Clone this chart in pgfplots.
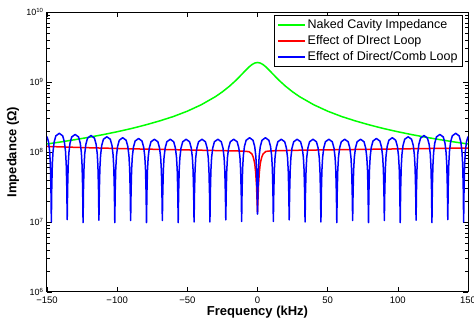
\documentclass[border=0pt]{standalone}
\usepackage{pgfplots}
\pgfplotsset{compat=1.18}
\usepackage{fontspec}
\setmainfont{Liberation Sans}
\definecolor{mgreen}{rgb}{0,1,0}
\definecolor{mred}{rgb}{1,0,0}
\definecolor{mblue}{rgb}{0,0,1}
\begin{document}
\begin{tikzpicture}
\useasboundingbox (0,0) rectangle (474pt,325pt);
\begin{axis}[
  at={(47pt,33pt)}, anchor=south west,
  scale only axis, width=421pt, height=280pt,
  ymode=log,
  xmin=-150, xmax=150, ymin=1e6, ymax=1e10,
  xtick={-150,-100,-50,0,50,100,150},
  xticklabels={−150,−100,−50,0,50,100,150},
  ytick={1e6,1e7,1e8,1e9,1e10},
  yticklabels={10\textsuperscript{6},10\textsuperscript{7},10\textsuperscript{8},10\textsuperscript{9},10\textsuperscript{10}},
  tick label style={font=\fontsize{9.5}{10}\selectfont},
  yticklabel style={font=\fontsize{9}{10}\selectfont, inner ysep=0pt},
  xticklabel style={yshift=-4.5pt, inner ysep=0pt},
  axis line style={line width=1pt},
  major tick length=5pt, minor tick length=3pt,
  every tick/.style={black, line width=0.6pt},
  xlabel={Frequency (kHz)},
  ylabel={Impedance (Ω)},
  label style={font=\bfseries\fontsize{13}{14}\selectfont, inner sep=0pt},
  xlabel style={at={(axis description cs:0.5,-0.050)}, anchor=north},
  ylabel style={at={(axis description cs:-0.066,0.5)}, anchor=south},
  legend style={at={(rel axis cs:0.988,0.989)}, anchor=north east, draw=black, line width=0.8pt,
    font=\fontsize{12.5}{13}\selectfont, inner xsep=3pt, inner ysep=2pt, row sep=1.5pt,
    cells={anchor=west}},
  legend image code/.code={\draw[mark repeat=2,mark phase=2,#1] plot coordinates {(0pt,0pt) (13pt,0pt) (27pt,0pt)};},
]
\addplot[color=mgreen, line width=1.5pt] table {
x y
-150 1.301e8
-140 1.394e8
-130 1.501e8
-120 1.625e8
-110 1.771e8
-100 1.947e8
-90 2.16e8
-80 2.43e8
-70 2.77e8
-60 3.21e8
-50 3.83e8
-40 4.74e8
-30 6.17e8
-25 7.24e8
-20 8.70e8
-16 1.0285e9
-13 1.180e9
-10 1.363e9
-8 1.5005e9
-6 1.642e9
-4 1.771e9
-2 1.865e9
0 1.9e9
2 1.865e9
4 1.771e9
6 1.642e9
8 1.5005e9
10 1.363e9
13 1.180e9
16 1.0285e9
20 8.70e8
25 7.24e8
30 6.17e8
40 4.74e8
50 3.83e8
60 3.21e8
70 2.77e8
80 2.43e8
90 2.16e8
100 1.947e8
110 1.771e8
120 1.625e8
130 1.501e8
140 1.394e8
150 1.301e8
};
\addlegendentry{Naked Cavity Impedance}
\addplot[color=mred, line width=1.5pt] table {
x y
-150 1.20e8
-120 1.15e8
-90 1.11e8
-60 1.08e8
-30 1.05e8
-10 1.03e8
-6 1.01e8
-4 9.4e7
-3 8.4e7
-2 6.9e7
-1.3 5.1e7
-0.7 3.3e7
-0.3 2.0e7
0 1.4e7
0.3 2.0e7
0.7 3.3e7
1.3 5.1e7
2 6.9e7
3 8.4e7
4 9.4e7
6 1.02e8
10 1.04e8
30 1.06e8
60 1.08e8
90 1.10e8
120 1.12e8
150 1.14e8
};
\addlegendentry{Effect of DIrect Loop}
\addplot[color=mblue, line width=1.5pt, line join=round] table {
x y
-150 1.66e8
-148.9 1.39e8
-148.1 1.02e8
-147.6 6.66e7
-147.2 3.15e7
-146.9 1.0e7
-146.6 3.15e7
-146.2 6.66e7
-145.7 1.02e8
-144.9 1.39e8
-143.7 1.70e8
-141.25 1.85e8
-138.8 1.70e8
-137.6 1.39e8
-136.8 1.02e8
-136.3 6.66e7
-135.9 3.15e7
-135.6 1.08e7
-135.3 3.03e7
-134.9 6.41e7
-134.4 9.79e7
-133.6 1.335e8
-132.4 1.64e8
-129.95 1.78e8
-127.5 1.64e8
-126.3 1.335e8
-125.5 9.79e7
-125.0 6.41e7
-124.6 3.03e7
-124.3 0.98e7
-124.0 2.92e7
-123.6 6.19e7
-123.1 9.46e7
-122.3 1.29e8
-121.1 1.58e8
-118.65 1.72e8
-116.2 1.58e8
-115.0 1.29e8
-114.2 9.46e7
-113.7 6.19e7
-113.3 2.92e7
-113.0 1.06e7
-112.7 2.81e7
-112.3 5.94e7
-111.8 9.08e7
-111.0 1.24e8
-109.8 1.52e8
-107.35 1.65e8
-104.9 1.52e8
-103.7 1.24e8
-102.9 9.08e7
-102.4 5.94e7
-102.0 2.81e7
-101.7 0.98e7
-101.4 2.72e7
-101.0 5.76e7
-100.5 8.8e7
-99.7 1.2e8
-98.5 1.47e8
-96.05 1.6e8
-93.6 1.47e8
-92.4 1.2e8
-91.6 8.8e7
-91.1 5.76e7
-90.7 2.72e7
-90.4 1.05e7
-90.1 2.65e7
-89.7 5.62e7
-89.2 8.58e7
-88.4 1.17e8
-87.2 1.435e8
-84.75 1.56e8
-82.3 1.435e8
-81.1 1.17e8
-80.3 8.58e7
-79.8 5.62e7
-79.4 2.65e7
-79.1 0.98e7
-78.8 2.58e7
-78.4 5.47e7
-77.9 8.36e7
-77.1 1.14e8
-75.9 1.40e8
-73.45 1.52e8
-71.0 1.40e8
-69.8 1.14e8
-69.0 8.36e7
-68.5 5.47e7
-68.1 2.58e7
-67.8 1.05e7
-67.5 2.58e7
-67.1 5.47e7
-66.6 8.36e7
-65.8 1.14e8
-64.6 1.40e8
-62.15 1.52e8
-59.7 1.40e8
-58.5 1.14e8
-57.7 8.36e7
-57.2 5.47e7
-56.8 2.58e7
-56.5 0.98e7
-56.2 2.58e7
-55.8 5.47e7
-55.3 8.36e7
-54.5 1.14e8
-53.3 1.40e8
-50.85 1.52e8
-48.4 1.40e8
-47.2 1.14e8
-46.4 8.36e7
-45.9 5.47e7
-45.5 2.58e7
-45.2 1.0e7
-44.9 2.58e7
-44.5 5.47e7
-44.0 8.36e7
-43.2 1.14e8
-42.0 1.40e8
-39.55 1.52e8
-37.1 1.40e8
-35.9 1.14e8
-35.1 8.36e7
-34.6 5.47e7
-34.2 2.58e7
-33.9 1.0e7
-33.6 2.58e7
-33.2 5.47e7
-32.7 8.36e7
-31.9 1.14e8
-30.7 1.40e8
-28.25 1.52e8
-25.8 1.40e8
-24.6 1.14e8
-23.8 8.36e7
-23.3 5.47e7
-22.9 2.58e7
-22.6 1.07e7
-22.3 2.58e7
-21.9 5.47e7
-21.4 8.36e7
-20.6 1.14e8
-19.4 1.40e8
-16.95 1.52e8
-14.5 1.40e8
-13.3 1.14e8
-12.5 8.36e7
-12.0 5.47e7
-11.6 2.58e7
-11.3 1.02e7
-11.0 2.72e7
-10.6 5.76e7
-10.1 8.8e7
-9.3 1.2e8
-8.1 1.47e8
-5.65 1.6e8
-3.2 1.47e8
-2.0 1.2e8
-1.2 8.8e7
-0.7 5.76e7
-0.3 2.9e7
0 1.3e7
0.3 2.9e7
0.7 5.76e7
1.2 8.8e7
2.0 1.2e8
3.2 1.47e8
5.65 1.6e8
8.1 1.47e8
9.3 1.2e8
10.1 8.8e7
10.6 5.76e7
11.0 2.72e7
11.3 1.02e7
11.6 2.58e7
12.0 5.47e7
12.5 8.36e7
13.3 1.14e8
14.5 1.40e8
16.95 1.52e8
19.4 1.40e8
20.6 1.14e8
21.4 8.36e7
21.9 5.47e7
22.3 2.58e7
22.6 1.07e7
22.9 2.58e7
23.3 5.47e7
23.8 8.36e7
24.6 1.14e8
25.8 1.40e8
28.25 1.52e8
30.7 1.40e8
31.9 1.14e8
32.7 8.36e7
33.2 5.47e7
33.6 2.58e7
33.9 1.0e7
34.2 2.58e7
34.6 5.47e7
35.1 8.36e7
35.9 1.14e8
37.1 1.40e8
39.55 1.52e8
42.0 1.40e8
43.2 1.14e8
44.0 8.36e7
44.5 5.47e7
44.9 2.58e7
45.2 1.0e7
45.5 2.58e7
45.9 5.47e7
46.4 8.36e7
47.2 1.14e8
48.4 1.40e8
50.85 1.52e8
53.3 1.40e8
54.5 1.14e8
55.3 8.36e7
55.8 5.47e7
56.2 2.58e7
56.5 0.98e7
56.8 2.58e7
57.2 5.47e7
57.7 8.36e7
58.5 1.14e8
59.7 1.40e8
62.15 1.52e8
64.6 1.40e8
65.8 1.14e8
66.6 8.36e7
67.1 5.47e7
67.5 2.58e7
67.8 1.05e7
68.1 2.58e7
68.5 5.47e7
69.0 8.36e7
69.8 1.14e8
71.0 1.40e8
73.45 1.52e8
75.9 1.40e8
77.1 1.14e8
77.9 8.36e7
78.4 5.47e7
78.8 2.58e7
79.1 0.98e7
79.4 2.65e7
79.8 5.62e7
80.3 8.58e7
81.1 1.17e8
82.3 1.435e8
84.75 1.56e8
87.2 1.435e8
88.4 1.17e8
89.2 8.58e7
89.7 5.62e7
90.1 2.65e7
90.4 1.05e7
90.7 2.72e7
91.1 5.76e7
91.6 8.8e7
92.4 1.2e8
93.6 1.47e8
96.05 1.6e8
98.5 1.47e8
99.7 1.2e8
100.5 8.8e7
101.0 5.76e7
101.4 2.72e7
101.7 0.98e7
102.0 2.81e7
102.4 5.94e7
102.9 9.08e7
103.7 1.24e8
104.9 1.52e8
107.35 1.65e8
109.8 1.52e8
111.0 1.24e8
111.8 9.08e7
112.3 5.94e7
112.7 2.81e7
113.0 1.06e7
113.3 2.92e7
113.7 6.19e7
114.2 9.46e7
115.0 1.29e8
116.2 1.58e8
118.65 1.72e8
121.1 1.58e8
122.3 1.29e8
123.1 9.46e7
123.6 6.19e7
124.0 2.92e7
124.3 0.98e7
124.6 3.03e7
125.0 6.41e7
125.5 9.79e7
126.3 1.335e8
127.5 1.64e8
129.95 1.78e8
132.4 1.64e8
133.6 1.335e8
134.4 9.79e7
134.9 6.41e7
135.3 3.03e7
135.6 1.08e7
135.9 3.15e7
136.3 6.66e7
136.8 1.02e8
137.6 1.39e8
138.8 1.70e8
141.25 1.85e8
143.7 1.70e8
144.9 1.39e8
145.7 1.02e8
146.2 6.66e7
146.6 3.15e7
146.9 1.0e7
147.2 3.15e7
147.6 6.66e7
148.1 1.02e8
148.9 1.39e8
150 1.66e8
};
\addlegendentry{Effect of Direct/Comb Loop}
\end{axis}
\end{tikzpicture}
\end{document}
